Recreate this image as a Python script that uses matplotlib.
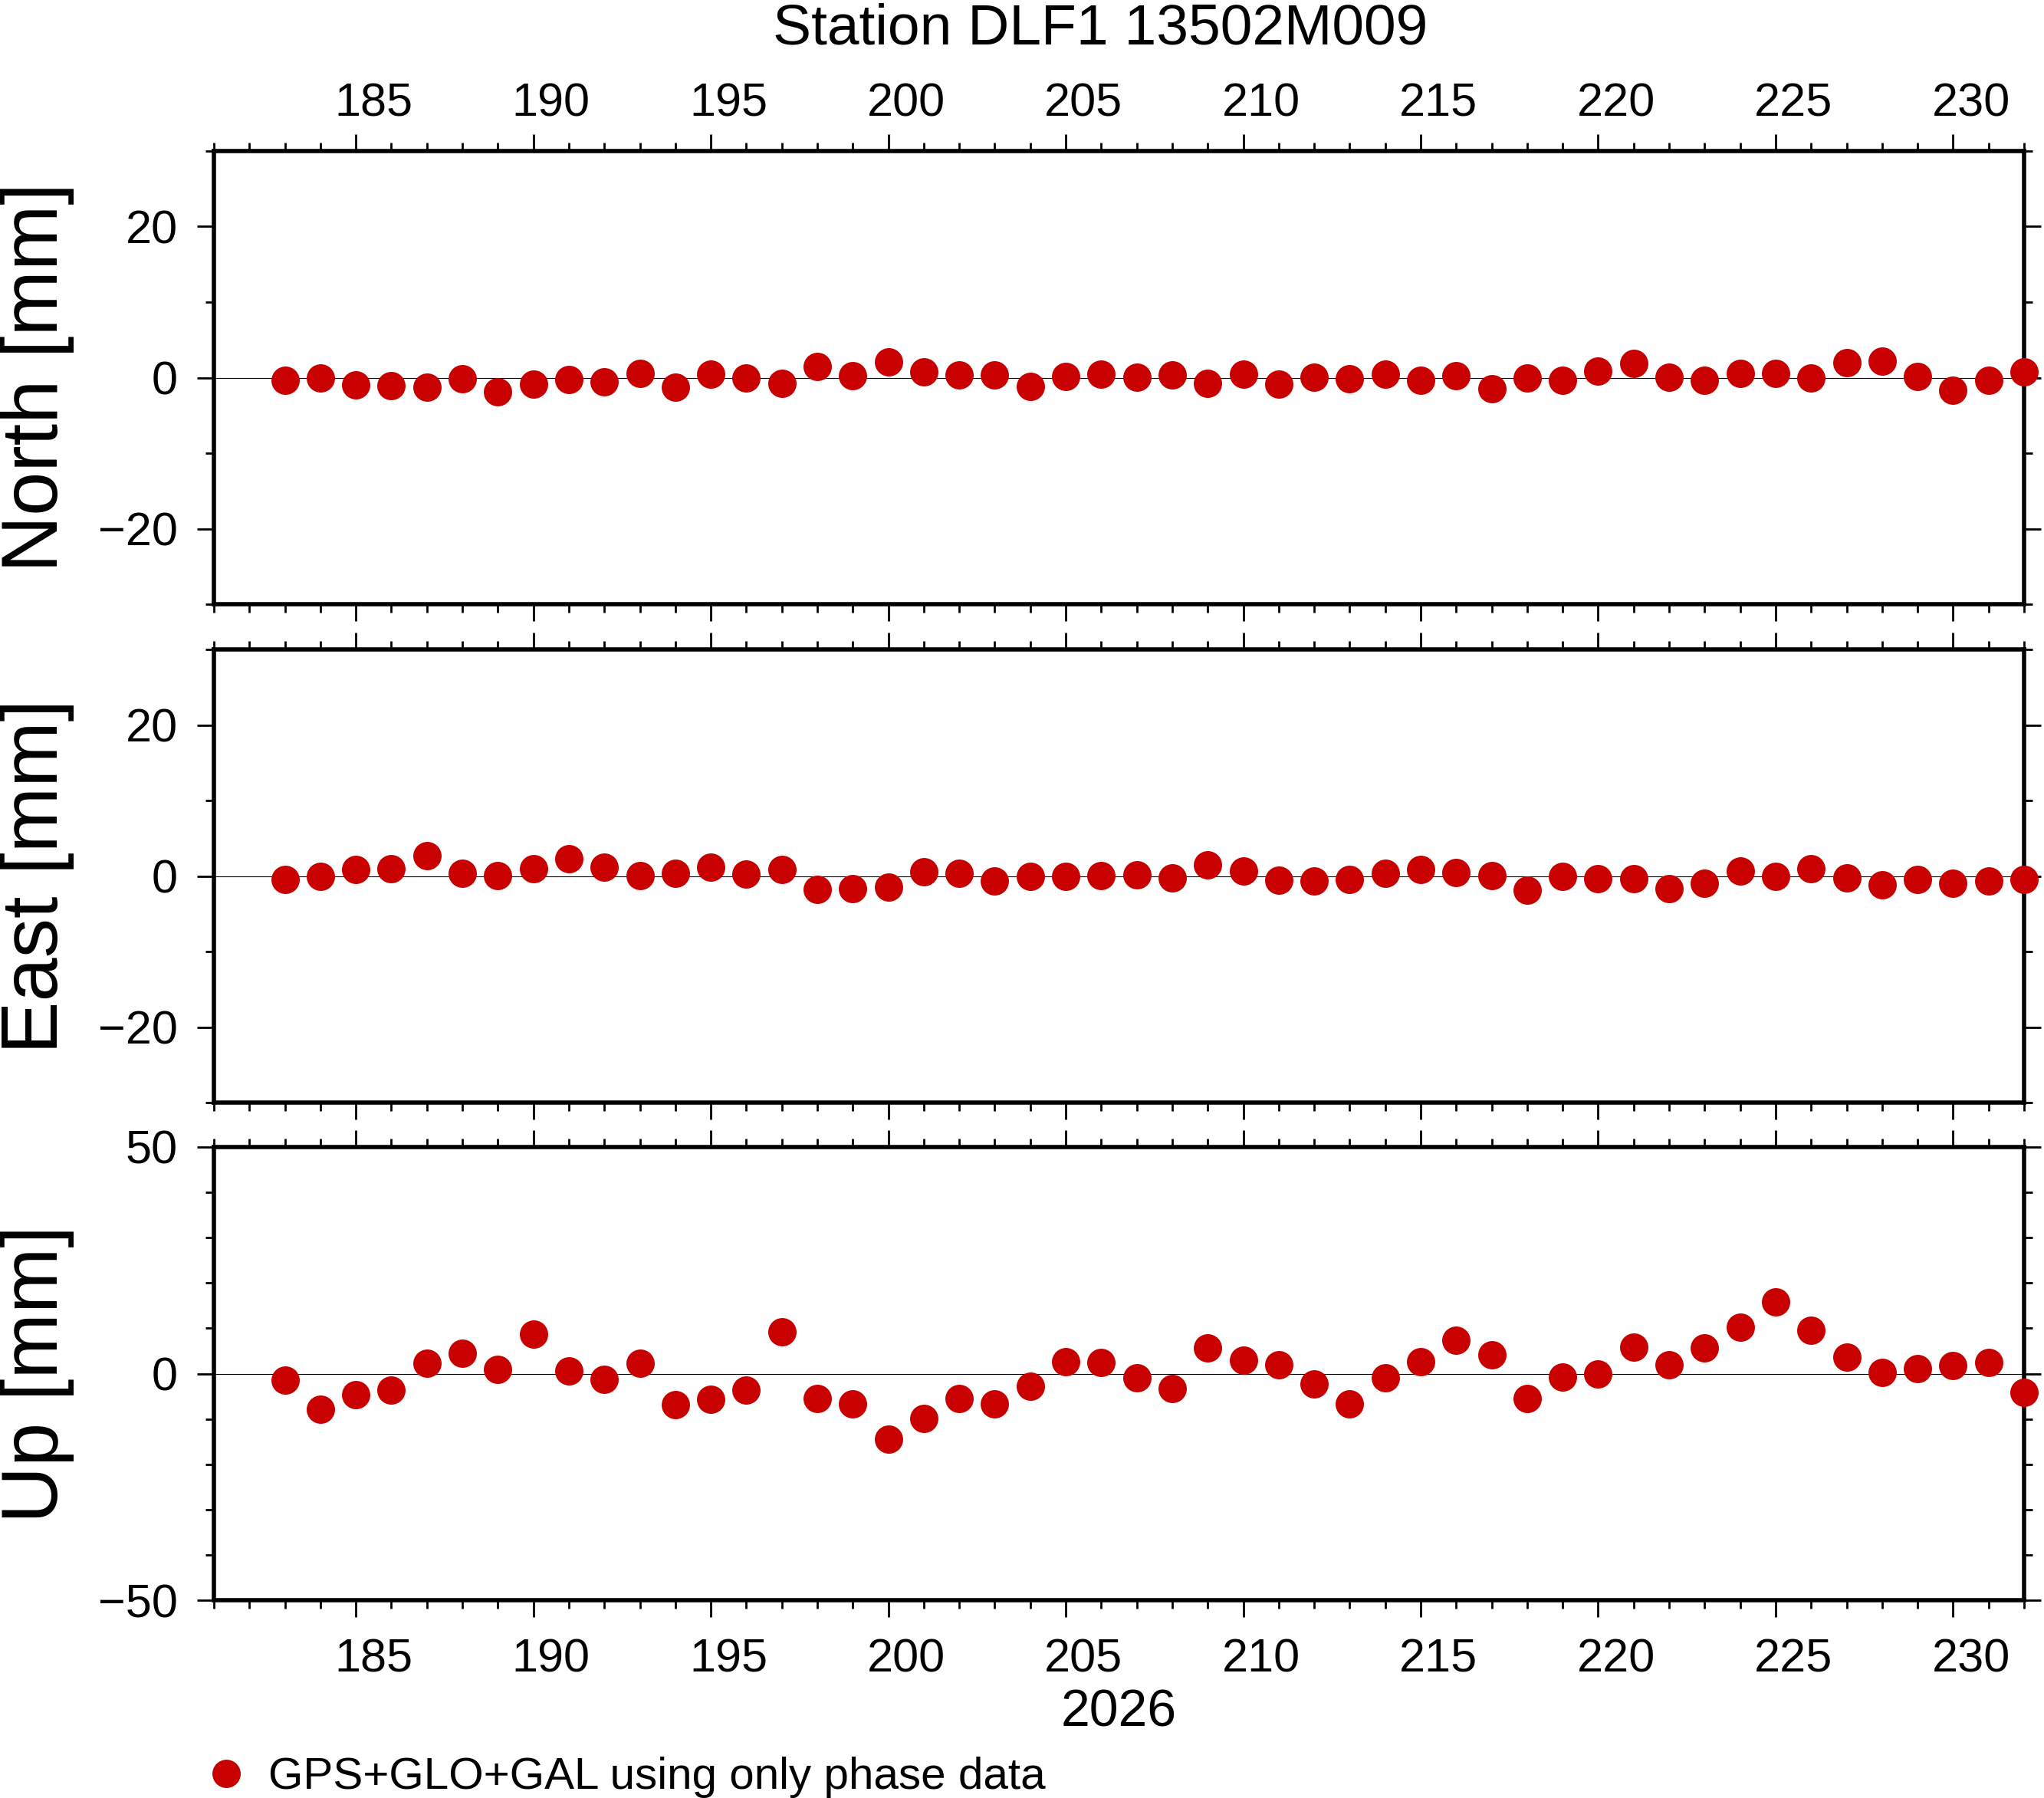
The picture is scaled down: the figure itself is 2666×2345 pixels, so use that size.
import numpy as np
import matplotlib
matplotlib.use("Agg")
import matplotlib.pyplot as plt
from matplotlib.ticker import MultipleLocator

plt.rcParams['font.family'] = ['Liberation Sans', 'DejaVu Sans']

# ---------------- data ----------------
days = [183, 184, 185, 186, 187, 188, 189, 190, 191, 192,
        193, 194, 195, 196, 197, 198, 199, 200, 201, 202,
        203, 204, 205, 206, 207, 208, 209, 210, 211, 212,
        213, 214, 215, 216, 217, 218, 219, 220, 221, 222,
        223, 224, 225, 226, 227, 228, 229, 230, 231, 232]

north = [-0.4, 0.0, -1.0, -1.1, -1.25, -0.2, -1.85, -0.9, -0.3, -0.6,
         0.6, -1.3, 0.5, 0.0, -0.8, 1.5, 0.3, 2.05, 0.8, 0.4,
         0.4, -1.2, 0.2, 0.5, 0.1, 0.4, -0.8, 0.5, -0.9, 0.1,
         -0.2, 0.5, -0.4, 0.3, -1.5, 0.0, -0.4, 0.9, 1.9, 0.1,
         -0.4, 0.6, 0.6, -0.1, 2.0, 2.2, 0.2, -1.7, -0.4, 0.8]

east = [-0.5, -0.1, 0.9, 1.0, 2.65, 0.4, 0.1, 1.0, 2.3, 1.2,
        0.1, 0.4, 1.2, 0.3, 0.9, -1.8, -1.7, -1.5, 0.6, 0.4,
        -0.7, 0.0, 0.0, 0.1, 0.2, -0.3, 1.5, 0.7, -0.6, -0.7,
        -0.5, 0.4, 0.9, 0.5, 0.1, -1.9, 0.0, -0.4, -0.4, -1.7,
        -1.0, 0.7, -0.1, 1.0, -0.3, -1.2, -0.5, -1.0, -0.7, -0.5]

up = [-1.5, -7.9, -4.7, -3.7, 2.25, 4.4, 0.85, 8.65, 0.56, -1.35,
      2.25, -6.9, -5.75, -3.7, 9.3, -5.5, -6.6, -14.5, -9.9, -5.5,
      -6.6, -2.8, 2.56, 2.4, -0.85, -3.3, 5.6, 3.0, 2.0, -2.2,
      -6.7, -1.0, 2.56, 7.3, 4.1, -5.55, -0.8, 0.0, 5.8, 1.9,
      5.6, 10.3, 15.75, 9.5, 3.6, 0.2, 1.04, 1.7, 2.4, -4.2]

panel_labels = ["North [mm]", "East [mm]", "Up [mm]"]
panel_ylims = [(-30, 30), (-30, 30), (-50, 50)]
panel_major = [20, 20, 50]
panel_minor = [10, 10, 10]
title = "Station DLF1 13502M009"
year_label = "2026"
legend_label = "GPS+GLO+GAL using only phase data"
x_range = (181, 232)
day_ticks = [185, 190, 195, 200, 205, 210, 215, 220, 225, 230]

# ---------------- style ----------------
RED = '#c80000'
FS_TICK = 22
W, H = 2666, 2345
fig = plt.figure(figsize=(W / 200, H / 200), dpi=200)

left = 279 / W
width = (2640 - 279) / W
tops = [197, 847, 1496]
ph = 591

series = [north, east, up]
axes = []
for i in range(3):
    bottom = 1 - (tops[i] + ph) / H
    ax = fig.add_axes([left, bottom, width, ph / H])
    axes.append(ax)
    ax.axhline(0, color='black', lw=0.4, zorder=1)
    line, = ax.plot(days, series[i], 'o', ms=13.3, color=RED, mec='none',
                    clip_on=False, zorder=3, label=legend_label)
    ax.set_xlim(*x_range)
    ax.set_ylim(*panel_ylims[i])
    ax.xaxis.set_major_locator(MultipleLocator(5))
    ax.xaxis.set_minor_locator(MultipleLocator(1))
    ax.yaxis.set_major_locator(MultipleLocator(panel_major[i]))
    ax.yaxis.set_minor_locator(MultipleLocator(panel_minor[i]))
    ax.tick_params(axis='x', which='both', direction='out', top=True, bottom=True,
                   labelbottom=False, labeltop=False)
    ax.tick_params(axis='y', which='both', direction='out', left=True, right=True,
                   labelright=False, labelsize=FS_TICK, pad=9)
    ax.tick_params(which='major', length=8, width=1.0)
    ax.tick_params(which='minor', length=4, width=1.0)
    for sp in ax.spines.values():
        sp.set_linewidth(2.0)
    cy = 1 - (tops[i] + ph / 2) / H
    fig.text(0.0, cy, panel_labels[i], rotation=90, ha='left', va='center',
             fontsize=37)

label_pos = [d + 0.5 for d in day_ticks]
label_txt = [str(d) for d in day_ticks]
for ax, loc, pad in [(axes[0], 'top', 11.7), (axes[2], 'bottom', 17.8)]:
    sec = ax.secondary_xaxis(loc)
    sec.set_xticks(label_pos, labels=label_txt)
    sec.tick_params(length=0, pad=pad, labelsize=FS_TICK)
    sec.spines[loc].set_visible(False)

fig.text(1435 / W, 1 - 57 / H, title, ha='center', va='baseline', fontsize=27)
fig.text(1459 / W, 1 - 2251 / H, year_label, ha='center', va='baseline', fontsize=24.5)

fig.legend(handles=[line], labels=[legend_label], loc='center left',
           bbox_to_anchor=(277 / W, 1 - 2318 / H), frameon=False, fontsize=21,
           borderpad=0, borderaxespad=0, handlelength=0.6, handletextpad=0.66,
           numpoints=1)

fig.savefig("out.png", dpi=200)
